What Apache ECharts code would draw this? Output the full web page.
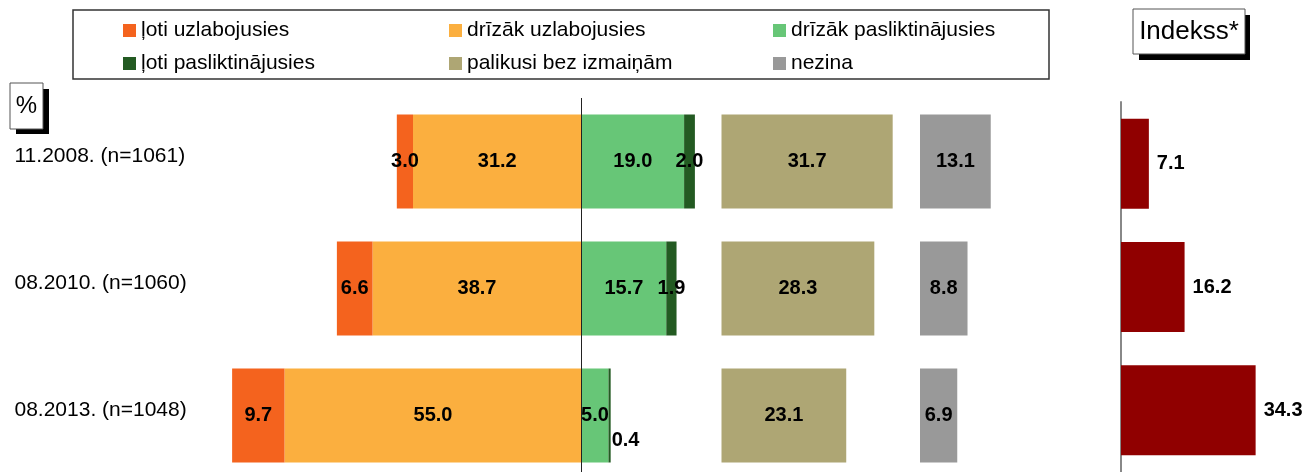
<!DOCTYPE html>
<html>
<head>
<meta charset="utf-8">
<script src="https://cdn.jsdelivr.net/npm/echarts@6/dist/echarts.min.js"></script>
<style>
  html, body { margin: 0; padding: 0; background: #fff; }
  #chart { width: 1306px; height: 472px; }
</style>
</head>
<body>
<div id="chart"></div>
<script>
(function () {
    var myChart = echarts.init(document.getElementById('chart'));

    // dati
    var categories = ['11.2008. (n=1061)', '08.2010. (n=1060)', '08.2013. (n=1048)'];
    var lotiUzl = [3.0, 6.6, 9.7];
    var drizakUzl = [31.2, 38.7, 55.0];
    var drizakPasl = [19.0, 15.7, 5.0];
    var lotiPasl = [2.0, 1.9, 0.4];
    var bezIzmainam = [31.7, 28.3, 23.1];
    var nezina = [13.1, 8.8, 6.9];
    var indekss = [7.1, 16.2, 34.3];

    var font = '"Liberation Sans", Arial, sans-serif';
    var lbl = {
        show: true,
        position: 'inside',
        color: '#000',
        fontFamily: font,
        fontWeight: 'bold',
        fontSize: 20,
        formatter: function (p) { return Math.abs(p.value).toFixed(1); }
    };
    function neg(arr) { return arr.map(function (v) { return -v; }); }

    // 0.4 label sits below-right of its tiny bar
    var lotiPaslData = lotiPasl.map(function (v, i) {
        if (i === 2) {
            return { value: v, label: { position: 'right', distance: 1, offset: [0, 25] } };
        }
        return v;
    });

    var legendBase = { top: 20, orient: 'vertical', padding: 0, itemGap: 12, itemWidth: 13, itemHeight: 13, icon: 'rect',
                       textStyle: { fontSize: 21, color: '#000', fontFamily: font } };

    var option = {
        backgroundColor: '#fff',
        animation: false,
        textStyle: { fontFamily: font },
        legend: [
            Object.assign({ left: 123, data: ['ļoti uzlabojusies', 'ļoti pasliktinājusies'] }, legendBase),
            Object.assign({ left: 449, data: ['drīzāk uzlabojusies', 'palikusi bez izmaiņām'] }, legendBase),
            Object.assign({ left: 773, data: ['drīzāk pasliktinājusies', 'nezina'] }, legendBase)
        ],
        graphic: [
            { type: 'rect', shape: { x: 73, y: 10, width: 976, height: 69 }, style: { fill: 'none', stroke: '#333', lineWidth: 1.5 } },
            { type: 'rect', shape: { x: 1139, y: 15, width: 111, height: 45 }, style: { fill: '#000' } },
            { type: 'rect', shape: { x: 1133, y: 9, width: 112, height: 45 }, style: { fill: '#fff', stroke: '#555', lineWidth: 1 } },
            { type: 'text', x: 1189, y: 32, style: { text: 'Indekss*', font: '26px ' + font, fill: '#000', align: 'center', verticalAlign: 'middle' } },
            { type: 'rect', shape: { x: 16, y: 89, width: 33, height: 45 }, style: { fill: '#000' } },
            { type: 'rect', shape: { x: 10, y: 83, width: 33, height: 46 }, style: { fill: '#fff', stroke: '#555', lineWidth: 1 } },
            { type: 'text', x: 26.5, y: 106, style: { text: '%', font: '24px ' + font, fill: '#000', align: 'center', verticalAlign: 'middle' } }
        ],
        grid: [
            { left: 203.5, top: 98, width: 513, height: 381, outerBoundsMode: 'none' },
            { left: 721.5, top: 98, width: 189, height: 381, outerBoundsMode: 'none' },
            { left: 920, top: 98, width: 108, height: 381, outerBoundsMode: 'none' },
            { left: 1121, top: 102, width: 157, height: 370, outerBoundsMode: 'none' }
        ],
        xAxis: [
            { gridIndex: 0, type: 'value', min: -70, max: 25, show: false },
            { gridIndex: 1, type: 'value', min: 0, max: 35, show: false },
            { gridIndex: 2, type: 'value', min: 0, max: 20, show: false },
            { gridIndex: 3, type: 'value', min: 0, max: 40, show: false }
        ],
        yAxis: [
            { gridIndex: 0, type: 'category', data: categories, inverse: true,
              axisLine: { show: false }, axisTick: { show: false }, splitLine: { show: false },
              axisLabel: { align: 'left', margin: 189, color: '#000',
                           formatter: function (v) { return '{c|' + v + '}'; },
                           rich: { c: { fontSize: 21, fontFamily: font, color: '#000', padding: [0, 0, 10, 0] } } } },
            { gridIndex: 1, type: 'category', data: categories, inverse: true, show: false },
            { gridIndex: 2, type: 'category', data: categories, inverse: true, show: false },
            { gridIndex: 3, type: 'category', data: categories, inverse: true,
              axisLine: { show: true, lineStyle: { color: '#888', width: 2 } },
              axisTick: { show: false }, axisLabel: { show: false } }
        ],
        series: [
            { name: 'drīzāk uzlabojusies', type: 'bar', stack: 'v', xAxisIndex: 0, yAxisIndex: 0, barWidth: 94,
              data: neg(drizakUzl), itemStyle: { color: '#FBAF3F' }, label: lbl,
              markLine: { silent: true, symbol: 'none', label: { show: false },
                          lineStyle: { color: '#222', width: 1, type: 'solid' }, data: [{ xAxis: 0 }] } },
            { name: 'ļoti uzlabojusies', type: 'bar', stack: 'v', xAxisIndex: 0, yAxisIndex: 0, barWidth: 94,
              data: neg(lotiUzl), itemStyle: { color: '#F4631E' }, label: lbl },
            { name: 'drīzāk pasliktinājusies', type: 'bar', stack: 'v', xAxisIndex: 0, yAxisIndex: 0, barWidth: 94,
              data: drizakPasl, itemStyle: { color: '#67C677' }, label: lbl },
            { name: 'ļoti pasliktinājusies', type: 'bar', stack: 'v', xAxisIndex: 0, yAxisIndex: 0, barWidth: 94,
              data: lotiPaslData, itemStyle: { color: '#235A22' }, label: lbl },
            { name: 'palikusi bez izmaiņām', type: 'bar', xAxisIndex: 1, yAxisIndex: 1, barWidth: 94,
              data: bezIzmainam, itemStyle: { color: '#AEA674' }, label: lbl },
            { name: 'nezina', type: 'bar', xAxisIndex: 2, yAxisIndex: 2, barWidth: 94,
              data: nezina, itemStyle: { color: '#999999' }, label: lbl },
            { name: 'Indekss', type: 'bar', xAxisIndex: 3, yAxisIndex: 3, barWidth: 90,
              data: indekss, itemStyle: { color: '#900000' },
              label: { show: true, position: 'right', distance: 8, color: '#000', fontFamily: font,
                       fontWeight: 'bold', fontSize: 20, formatter: function (p) { return p.value.toFixed(1); } } }
        ]
    };
    myChart.setOption(option);
    window.addEventListener('resize', function () {
        myChart.resize();
    });
})();
</script>
</body>
</html>
